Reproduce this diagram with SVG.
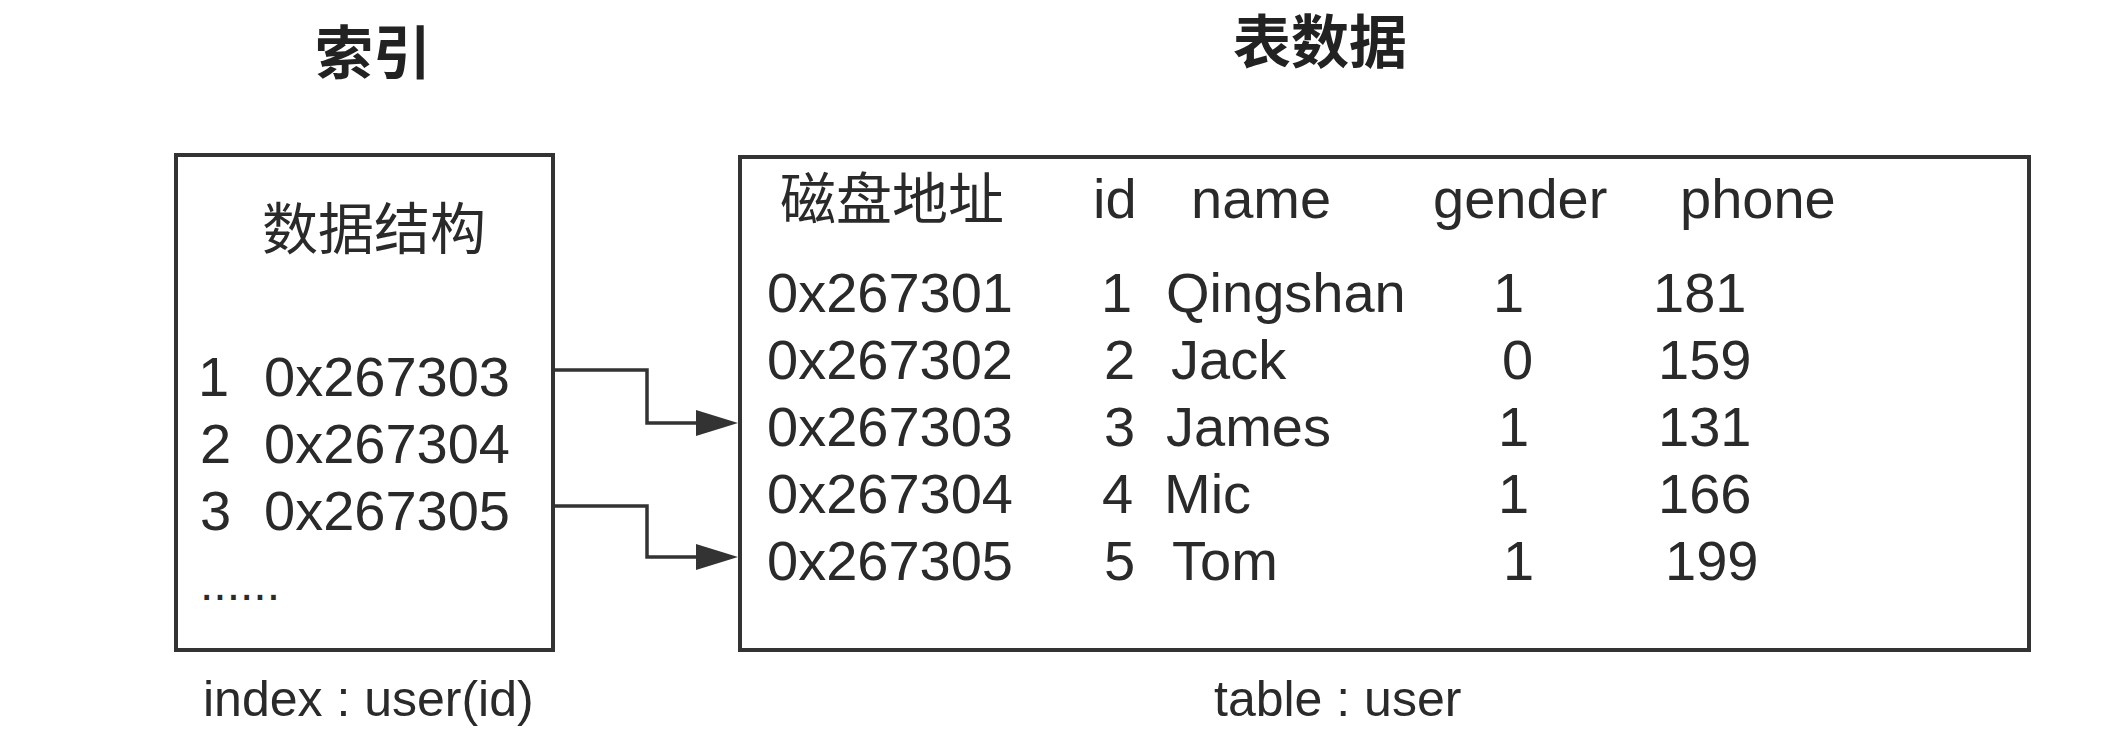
<svg xmlns="http://www.w3.org/2000/svg" width="2110" height="746" viewBox="0 0 2110 746">
<defs>
<style>
.t{font-family:"Liberation Sans","Noto Sans CJK SC",sans-serif;font-size:56px;fill:#2a2a2a}
.c{font-family:"Noto Sans CJK SC","Liberation Sans",sans-serif;font-size:56px;fill:#2a2a2a}
.h{font-family:"Noto Sans CJK SC","Liberation Sans",sans-serif;font-size:58px;font-weight:bold;fill:#222}
.lb{font-family:"Liberation Sans","Noto Sans CJK SC",sans-serif;font-size:50px;fill:#2a2a2a}
.box{fill:#fff;stroke:#333;stroke-width:4}
.cn{fill:none;stroke:#333;stroke-width:3.5}
</style>
<marker id="ah" markerUnits="userSpaceOnUse" markerWidth="44" markerHeight="28" refX="0" refY="14" orient="auto" viewBox="0 0 44 28">
<polygon points="0,1 42,14 0,27" fill="#333"/>
</marker>
</defs>
<rect width="2110" height="746" fill="#fff"/>
<g id="title-index"><text class="h" x="373" y="74" text-anchor="middle">索引</text></g>
<g id="title-table"><text class="h" x="1320" y="63" text-anchor="middle">表数据</text></g>
<g id="index-box">
<rect class="box" x="176" y="155" width="377" height="495"/>
<text class="c" x="374" y="249" text-anchor="middle">数据结构</text>
<text class="t" x="198" y="396">1</text><text class="t" x="264" y="396">0x267303</text>
<text class="t" x="200" y="463">2</text><text class="t" x="264" y="463">0x267304</text>
<text class="t" x="200" y="530">3</text><text class="t" x="264" y="530">0x267305</text>
<text class="t" x="200" y="600" style="font-size:48px">......</text>
</g>
<g id="table-box">
<rect class="box" x="740" y="157" width="1289" height="493"/>
<text class="c" x="780" y="219">磁盘地址</text>
<text class="t" x="1093" y="218">id</text>
<text class="t" x="1191" y="218">name</text>
<text class="t" x="1433" y="218">gender</text>
<text class="t" x="1680" y="218">phone</text>
<text class="t" x="767" y="312">0x267301</text><text class="t" x="1101" y="312">1</text><text class="t" x="1166" y="312">Qingshan</text><text class="t" x="1493" y="312">1</text><text class="t" x="1653" y="312">181</text>
<text class="t" x="767" y="379">0x267302</text><text class="t" x="1104" y="379">2</text><text class="t" x="1171" y="379">Jack</text><text class="t" x="1502" y="379">0</text><text class="t" x="1658" y="379">159</text>
<text class="t" x="767" y="446">0x267303</text><text class="t" x="1104" y="446">3</text><text class="t" x="1166" y="446">James</text><text class="t" x="1498" y="446">1</text><text class="t" x="1658" y="446">131</text>
<text class="t" x="767" y="513">0x267304</text><text class="t" x="1102" y="513">4</text><text class="t" x="1164" y="513">Mic</text><text class="t" x="1498" y="513">1</text><text class="t" x="1658" y="513">166</text>
<text class="t" x="767" y="580">0x267305</text><text class="t" x="1104" y="580">5</text><text class="t" x="1172" y="580">Tom</text><text class="t" x="1503" y="580">1</text><text class="t" x="1665" y="580">199</text>
</g>
<g id="label-index"><text class="lb" x="203" y="716">index : user(id)</text></g>
<g id="label-table"><text class="lb" x="1214" y="716">table : user</text></g>
<g id="connectors">
<path class="cn" d="M553,370 H647 V423 H696" marker-end="url(#ah)"/>
<path class="cn" d="M553,506 H647 V557 H696" marker-end="url(#ah)"/>
</g>
</svg>
